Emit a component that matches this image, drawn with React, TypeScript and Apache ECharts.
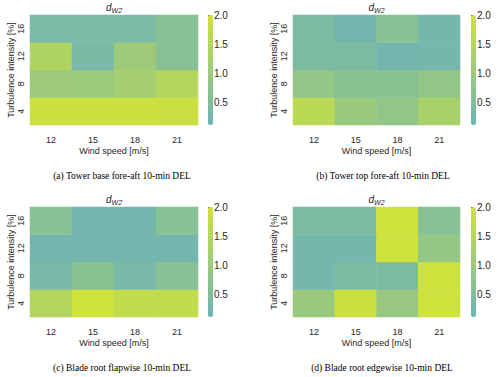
import React, { useEffect, useRef } from 'react';
import * as echarts from 'echarts';

const windSpeeds = ['12', '15', '18', '21'];
const turbulenceIntensities = ['4', '8', '12', '16'];
const colorbarTicks = [0.5, 1.0, 1.5, 2.0];
const valueMin = 0.12;
const valueMax = 2.0;

// rows: TI 4, 8, 12, 16 ; columns: wind speed 12, 15, 18, 21
const towerBaseForeAft = [
  [1.92, 1.92, 1.92, 1.9],
  [1.04, 1.02, 1.19, 1.47],
  [1.4, 0.37, 1.04, 0.63],
  [0.4, 0.4, 0.4, 0.63],
];
const towerTopForeAft = [
  [1.62, 0.98, 0.85, 1.25],
  [0.85, 0.67, 0.67, 0.85],
  [0.42, 0.42, 0.25, 0.28],
  [0.42, 0.25, 0.65, 0.28],
];
const bladeRootFlapwise = [
  [1.45, 1.95, 1.72, 1.72],
  [0.35, 0.68, 0.35, 0.65],
  [0.25, 0.25, 0.25, 0.25],
  [0.65, 0.25, 0.25, 0.65],
];
const bladeRootEdgewise = [
  [0.98, 1.92, 0.96, 1.95],
  [0.27, 0.42, 0.42, 1.95],
  [0.27, 0.27, 1.95, 0.88],
  [0.45, 0.45, 1.95, 0.65],
];

const datasets = [towerBaseForeAft, towerTopForeAft, bladeRootFlapwise, bladeRootEdgewise];
const captions = [
  '(a) Tower base fore-aft 10-min DEL',
  '(b) Tower top fore-aft 10-min DEL',
  '(c) Blade root flapwise 10-min DEL',
  '(d) Blade root edgewise 10-min DEL',
];
const xAxisName = 'Wind speed [m/s]';
const yAxisName = 'Turbulence intensity [%]';

const panels = [
  { gx: 30, gy: 15, gw: 168, gh: 110, cbx: 208, capX: 122, capY: 176 },
  { gx: 293, gy: 15, gw: 167, gh: 110, cbx: 471, capX: 383, capY: 176 },
  { gx: 30, gy: 207, gw: 168, gh: 110, cbx: 208, capX: 122, capY: 368 },
  { gx: 293, gy: 207, gw: 167, gh: 110, cbx: 471, capX: 382, capY: 368 },
];

const SANS = '"Liberation Sans", Arial, sans-serif';
const SERIF = '"Liberation Serif", "Times New Roman", serif';
const TEXT = '#262626';
const LOW = '#6cb3b6';
const HIGH = '#cfe33a';

function toCells(rows: number[][]) {
  const out: number[][] = [];
  rows.forEach((row, r) => row.forEach((v, c) => out.push([c, r, v])));
  return out;
}

export default function App() {
  const ref = useRef<HTMLDivElement>(null);
  useEffect(() => {
    if (!ref.current) return;
    const chart = echarts.init(ref.current, undefined, { renderer: 'svg' });
    const grid: any[] = [];
    const xAxis: any[] = [];
    const yAxis: any[] = [];
    const visualMap: any[] = [];
    const series: any[] = [];
    const graphic: any[] = [];
    panels.forEach((p, i) => {
      grid.push({ left: p.gx, top: p.gy, width: p.gw, height: p.gh });
      grid.push({ left: p.cbx, top: p.gy, width: 5, height: p.gh });
      xAxis.push({
        type: 'category',
        gridIndex: 2 * i,
        data: windSpeeds,
        axisLine: { show: false },
        axisTick: { show: false },
        splitArea: { show: false },
        axisLabel: { fontSize: 9, color: TEXT, fontFamily: SANS, margin: 10 },
        name: xAxisName,
        nameLocation: 'middle',
        nameGap: 21,
        nameTextStyle: { fontSize: 9, color: TEXT, fontFamily: SANS },
      });
      xAxis.push({ type: 'value', gridIndex: 2 * i + 1, show: false, min: 0, max: 1 });
      yAxis.push({
        type: 'category',
        gridIndex: 2 * i,
        data: turbulenceIntensities,
        axisLine: { show: false },
        axisTick: { show: false },
        splitArea: { show: false },
        axisLabel: { fontSize: 9, color: TEXT, fontFamily: SANS, margin: 5, rotate: 90 },
        name: yAxisName,
        nameLocation: 'middle',
        nameRotate: 90,
        nameGap: 14,
        nameTextStyle: { fontSize: 9, color: TEXT, fontFamily: SANS },
      });
      yAxis.push({
        type: 'value',
        gridIndex: 2 * i + 1,
        position: 'right',
        min: valueMin,
        max: valueMax,
        axisLine: { show: false },
        splitLine: { show: false },
        axisTick: { show: true, length: 3, customValues: colorbarTicks, lineStyle: { color: TEXT, width: 0.8 } },
        axisLabel: {
          customValues: colorbarTicks,
          formatter: (v: number) => v.toFixed(1),
          fontSize: 10,
          color: TEXT,
          fontFamily: SANS,
          margin: 1,
        },
      });
      visualMap.push({
        type: 'continuous',
        seriesIndex: i,
        min: valueMin,
        max: valueMax,
        left: p.cbx,
        top: p.gy,
        itemWidth: 5,
        itemHeight: p.gh,
        padding: 0,
        calculable: false,
        hoverLink: false,
        inRange: { color: [LOW, HIGH] },
      });
      series.push({
        type: 'heatmap',
        xAxisIndex: 2 * i,
        yAxisIndex: 2 * i,
        data: toCells(datasets[i]),
        itemStyle: { borderWidth: 0 },
        emphasis: { disabled: true },
      });
      graphic.push({
        type: 'text',
        x: p.gx + p.gw / 2,
        y: p.gy - 7,
        style: {
          text: '{d|d}{s|W2}',
          align: 'center',
          verticalAlign: 'middle',
          rich: {
            d: { fontSize: 10, fontStyle: 'italic', fontFamily: SANS, fill: TEXT, lineHeight: 12, verticalAlign: 'top' },
            s: { fontSize: 7, fontStyle: 'italic', fontFamily: SANS, fill: TEXT, lineHeight: 12, verticalAlign: 'bottom', padding: [4, 0, 0, 0] },
          },
        },
      });
      graphic.push({
        type: 'text',
        x: p.capX,
        y: p.capY,
        style: {
          text: captions[i],
          align: 'center',
          verticalAlign: 'middle',
          fontSize: 9.5,
          fontFamily: SERIF,
          fill: '#000',
        },
      });
    });
    chart.setOption({
      animation: false,
      backgroundColor: '#fff',
      grid,
      xAxis,
      yAxis,
      visualMap,
      series,
      graphic,
    });
    return () => chart.dispose();
  }, []);
  return <div ref={ref} style={{ position: 'fixed', left: 0, top: 0, width: 500, height: 377 }} />;
}
